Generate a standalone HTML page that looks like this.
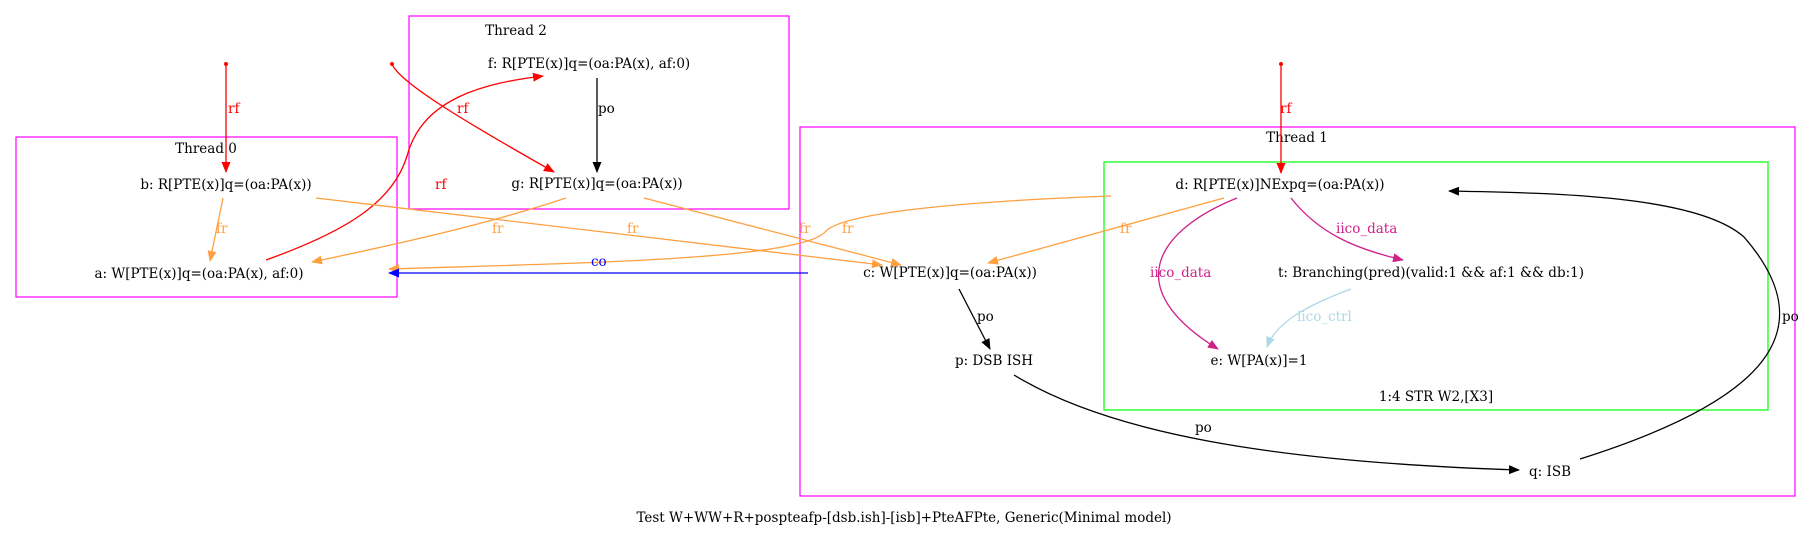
<!DOCTYPE html>
<html><head><meta charset="utf-8"><style>
html,body{margin:0;padding:0;background:#fff;}
svg{display:block;}
text{font-family:"DejaVu Serif","Liberation Serif",serif;font-size:13.5px;}
</style></head><body>
<svg width="1811" height="537" viewBox="0 0 1811 537" xmlns="http://www.w3.org/2000/svg">
<defs>
<marker id="mr" markerWidth="11" markerHeight="9" refX="10" refY="4.5" orient="auto" markerUnits="userSpaceOnUse"><path d="M0,0L11,4.5L0,9z" fill="#ff0000"/></marker>
<marker id="mk" markerWidth="11" markerHeight="9" refX="10" refY="4.5" orient="auto" markerUnits="userSpaceOnUse"><path d="M0,0L11,4.5L0,9z" fill="#000"/></marker>
<marker id="mo" markerWidth="11" markerHeight="9" refX="10" refY="4.5" orient="auto" markerUnits="userSpaceOnUse"><path d="M0,0L11,4.5L0,9z" fill="#ffa040"/></marker>
<marker id="mb" markerWidth="11" markerHeight="9" refX="10" refY="4.5" orient="auto" markerUnits="userSpaceOnUse"><path d="M0,0L11,4.5L0,9z" fill="#0000ff"/></marker>
<marker id="mp" markerWidth="11" markerHeight="9" refX="10" refY="4.5" orient="auto" markerUnits="userSpaceOnUse"><path d="M0,0L11,4.5L0,9z" fill="#d0208a"/></marker>
<marker id="ml" markerWidth="11" markerHeight="9" refX="10" refY="4.5" orient="auto" markerUnits="userSpaceOnUse"><path d="M0,0L11,4.5L0,9z" fill="#add8e6"/></marker>
</defs>
<g fill="none" stroke-width="1.2">
<rect x="409" y="16" width="380" height="193" stroke="#ff00ff"/>
<rect x="16" y="137" width="381" height="160" stroke="#ff00ff"/>
<rect x="800" y="127" width="995" height="369" stroke="#ff00ff"/>
<rect x="1104" y="162" width="664" height="248" stroke="#00ff00"/>
</g>
<g>
<text x="516" y="35" text-anchor="middle">Thread 2</text>
<text x="206" y="153" text-anchor="middle">Thread 0</text>
<text x="1297" y="142" text-anchor="middle">Thread 1</text>
<text x="1436" y="401" text-anchor="middle">1:4 STR W2,[X3]</text>
<text x="226" y="189" text-anchor="middle">b: R[PTE(x)]q=(oa:PA(x))</text>
<text x="199" y="278" text-anchor="middle">a: W[PTE(x)]q=(oa:PA(x), af:0)</text>
<text x="589" y="68" text-anchor="middle">f: R[PTE(x)]q=(oa:PA(x), af:0)</text>
<text x="597" y="188" text-anchor="middle">g: R[PTE(x)]q=(oa:PA(x))</text>
<text x="950" y="277" text-anchor="middle">c: W[PTE(x)]q=(oa:PA(x))</text>
<text x="1280" y="189" text-anchor="middle">d: R[PTE(x)]NExpq=(oa:PA(x))</text>
<text x="1431" y="277" text-anchor="middle">t: Branching(pred)(valid:1 &amp;&amp; af:1 &amp;&amp; db:1)</text>
<text x="994" y="365" text-anchor="middle">p: DSB ISH</text>
<text x="1259" y="365" text-anchor="middle">e: W[PA(x)]=1</text>
<text x="1550" y="476" text-anchor="middle">q: ISB</text>
<text x="904" y="522" text-anchor="middle">Test W+WW+R+pospteafp-[dsb.ish]-[isb]+PteAFPte, Generic(Minimal model)</text>
</g>
<g fill="#ff0000"><circle cx="226" cy="64" r="2"/><circle cx="392" cy="64" r="2"/><circle cx="1281" cy="64" r="2"/></g>
<g fill="none" stroke-width="1.3">
<path d="M226,64L226,172" stroke="#ff0000" marker-end="url(#mr)"/>
<path d="M392,64C399,82 462,120 554,172" stroke="#ff0000" marker-end="url(#mr)"/>
<path d="M266,260C347,231 393,202 407,156C422,98 485,83 543,76" stroke="#ff0000" marker-end="url(#mr)"/>
<path d="M1281,64L1281,173" stroke="#ff0000" marker-end="url(#mr)"/>
<path d="M597,78L597,172" stroke="#000" marker-end="url(#mk)"/>
<path d="M223,198L210,261" stroke="#ffa040" marker-end="url(#mo)"/>
<path d="M316,198L882,265" stroke="#ffa040" marker-end="url(#mo)"/>
<path d="M566,198C485,225 393,245 312,262" stroke="#ffa040" marker-end="url(#mo)"/>
<path d="M644,198L901,265" stroke="#ffa040" marker-end="url(#mo)"/>
<path d="M1111,196C947,202 843,214 826,231C803,260 578,263 389,269" stroke="#ffa040" marker-end="url(#mo)"/>
<path d="M1224,198L988,263" stroke="#ffa040" marker-end="url(#mo)"/>
<path d="M808,273L389,273" stroke="#0000ff" marker-end="url(#mb)"/>
<path d="M1291,198C1317,231 1351,248 1403,260" stroke="#d0208a" marker-end="url(#mp)"/>
<path d="M1237,198C1155,231 1120,289 1218,349" stroke="#d0208a" marker-end="url(#mp)"/>
<path d="M1351,289C1305,306 1276,323 1267,347" stroke="#add8e6" marker-end="url(#ml)"/>
<path d="M959,289L990,349" stroke="#000" marker-end="url(#mk)"/>
<path d="M1014,375C1109,433 1271,462 1519,470" stroke="#000" marker-end="url(#mk)"/>
<path d="M1580,459C1767,400 1825,330 1744,237C1698,196 1559,193 1449,191" stroke="#000" marker-end="url(#mk)"/>
</g>
<g>
<text x="228" y="113" fill="#ff0000">rf</text>
<text x="457" y="113" fill="#ff0000">rf</text>
<text x="435" y="189" fill="#ff0000">rf</text>
<text x="1280" y="113" fill="#ff0000">rf</text>
<text x="598" y="113">po</text>
<text x="216" y="233" fill="#ffa040">fr</text>
<text x="492" y="233" fill="#ffa040">fr</text>
<text x="627" y="233" fill="#ffa040">fr</text>
<text x="799" y="233" fill="#ffa040">fr</text>
<text x="842" y="233" fill="#ffa040">fr</text>
<text x="1120" y="233" fill="#ffa040">fr</text>
<text x="591" y="266" fill="#0000ff">co</text>
<text x="1336" y="233" fill="#d0208a">iico_data</text>
<text x="1150" y="277" fill="#d0208a">iico_data</text>
<text x="1297" y="321" fill="#add8e6">iico_ctrl</text>
<text x="977" y="321">po</text>
<text x="1195" y="432">po</text>
<text x="1782" y="321">po</text>
</g>
</svg>
</body></html>
